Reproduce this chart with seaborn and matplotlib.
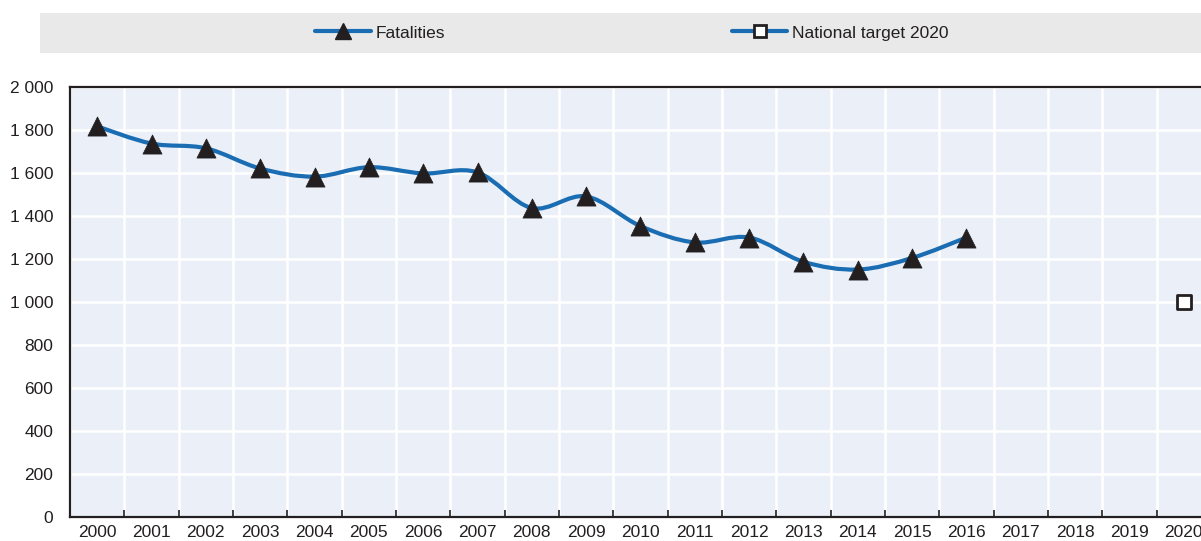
import numpy as np
import pandas as pd
import seaborn as sns
import matplotlib.pyplot as plt
from matplotlib.path import Path
from matplotlib.patches import PathPatch, Rectangle
from matplotlib.lines import Line2D

# Data
years = [str(y) for y in range(2000, 2021)]
fatality_years = [str(y) for y in range(2000, 2017)]
fatalities = [1817, 1737, 1715, 1621, 1583, 1627, 1598, 1603, 1437, 1491,
              1353, 1277, 1300, 1187, 1151, 1205, 1300]
target_year = '2020'
target_value = 1000
y_ticks = [0, 200, 400, 600, 800, 1000, 1200, 1400, 1600, 1800, 2000]

blue = '#1a6db3'
ink = '#231f20'
sns.set_style('white')
plt.rcParams['font.family'] = ['Liberation Sans', 'DejaVu Sans']

fig = plt.figure(figsize=(12.01, 5.41), dpi=100)
ax = fig.add_axes([70 / 1201, 1 - 517 / 541, 1141 / 1201, 430 / 541])
ax.set_facecolor('#ebf0f8')

pos = {y: i for i, y in enumerate(years)}
df = pd.DataFrame({'x': [pos[y] for y in fatality_years], 'value': fatalities})

# smoothed line through the points (Catmull-Rom as cubic Bezier)
pts = df[['x', 'value']].to_numpy(dtype=float)
ext = np.vstack([pts[0], pts, pts[-1]])
verts = [tuple(pts[0])]
codes = [Path.MOVETO]
for i in range(1, len(ext) - 2):
    p0, p1, p2, p3 = ext[i - 1], ext[i], ext[i + 1], ext[i + 2]
    c1 = p1 + (p2 - p0) / 6
    c2 = p2 - (p3 - p1) / 6
    verts += [tuple(c1), tuple(c2), tuple(p2)]
    codes += [Path.CURVE4] * 3
ax.add_patch(PathPatch(Path(verts, codes), facecolor='none', edgecolor=blue,
                       lw=3, zorder=3, capstyle='round'))

sns.scatterplot(data=df, x='x', y='value', marker='^', s=190, color=ink,
                edgecolor=ink, linewidth=0.5, zorder=4, ax=ax, legend=False)
sns.scatterplot(x=[pos[target_year]], y=[target_value], marker='s', s=110,
                facecolor='white', edgecolor=ink, linewidth=2, zorder=4,
                ax=ax, legend=False)

ax.set_xlim(-0.5, len(years) - 0.5)
ax.set_ylim(0, 2000)
ax.set_xticks(range(len(years)))
ax.set_xticklabels(years)
ax.set_xticks(np.arange(len(years) + 1) - 0.5, minor=True)
ax.set_yticks(y_ticks)
ax.set_yticklabels([f'{v:,}'.replace(',', ' ') for v in y_ticks])
ax.set_xlabel('')
ax.set_ylabel('')

ax.grid(True, which='minor', axis='x', color='white', lw=1.8)
ax.grid(True, which='major', axis='y', color='white', lw=1.8)
ax.grid(False, which='major', axis='x')
ax.set_axisbelow(True)

ax.tick_params(axis='x', which='major', length=0, labelsize=12.5, pad=6,
               colors=ink)
ax.tick_params(axis='x', which='minor', length=5, width=1.2, direction='in',
               color=ink, bottom=True)
ax.tick_params(axis='y', length=5, width=1.2, direction='in', labelsize=12.5,
               pad=12, colors=ink)

for side in ['left', 'bottom', 'top']:
    ax.spines[side].set_color(ink)
    ax.spines[side].set_linewidth(1.6)
ax.spines['right'].set_visible(False)

# legend band
fig.patches.append(Rectangle((40 / 1201, 1 - 53 / 541), 1, 40 / 541,
                             transform=fig.transFigure, facecolor='#e9e9ea',
                             edgecolor='none', zorder=0))
handles = [
    Line2D([], [], color=blue, lw=3, marker='^', markersize=11,
           markerfacecolor=ink, markeredgecolor=ink),
    Line2D([], [], color=blue, lw=3, marker='s', markersize=9,
           markerfacecolor='white', markeredgecolor=ink, markeredgewidth=2),
]
fig.legend(handles, ['Fatalities', 'National target 2020'], loc='center',
           bbox_to_anchor=(632 / 1201, 1 - 33 / 541), ncol=2, frameon=False,
           fontsize=12.5, handlelength=3.2, handletextpad=0.3, columnspacing=16.5,
           labelcolor=ink)

fig.savefig('out.png', dpi=100)
